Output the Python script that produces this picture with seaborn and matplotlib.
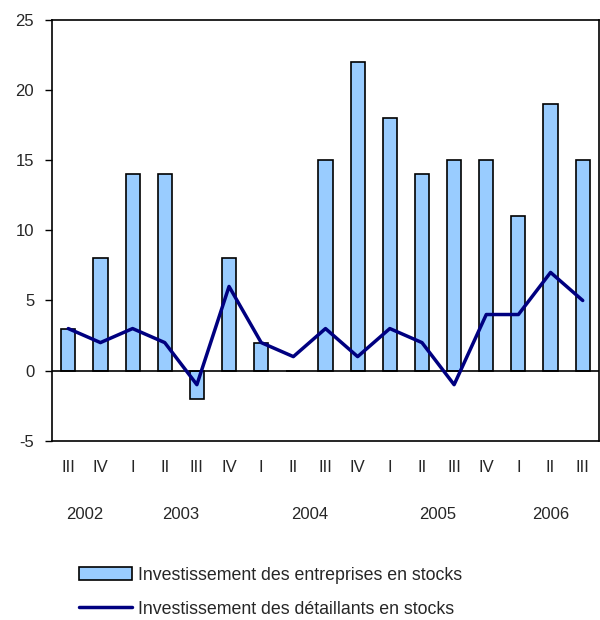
import numpy as np
import pandas as pd
import matplotlib
matplotlib.use("Agg")
import matplotlib.pyplot as plt
import seaborn as sns
from matplotlib.patches import Patch
from matplotlib.lines import Line2D
import matplotlib.transforms as mtransforms

# ── Data ─────────────────────────────────────────────────────────────────────
quarters = ["III", "IV", "I", "II", "III", "IV", "I", "II", "III", "IV",
            "I", "II", "III", "IV", "I", "II", "III"]
years = ["2002", "2002", "2003", "2003", "2003", "2003", "2004", "2004",
         "2004", "2004", "2005", "2005", "2005", "2005", "2006", "2006", "2006"]
business = [3, 8, 14, 14, -2, 8, 2, 0, 15, 22, 18, 14, 15, 15, 11, 19, 15]
retail = [3, 2, 3, 2, -1, 6, 2, 1, 3, 1, 3, 2, -1, 4, 4, 7, 5]

df = pd.DataFrame({"idx": range(len(quarters)), "quarter": quarters,
                   "year": years, "business": business, "retail": retail})

# ── Style ────────────────────────────────────────────────────────────────────
sns.set_theme(style="white")
plt.rcParams["font.family"] = ["Liberation Sans", "DejaVu Sans"]
plt.rcParams["axes.unicode_minus"] = False
BAR_COLOR = "#99CCFF"
LINE_COLOR = "#000080"

fig = plt.figure(figsize=(6, 6.2), dpi=100)
ax = fig.add_axes([0.087, 0.289, 0.911, 0.679])

sns.barplot(data=df, x="idx", y="business", color=BAR_COLOR, width=0.44,
            edgecolor="black", linewidth=1.2, saturation=1, ax=ax)
sns.lineplot(data=df, x="idx", y="retail", color=LINE_COLOR, linewidth=2.5, ax=ax)
ax.axhline(0, color="black", linewidth=1.2, zorder=1.5)

ax.set_ylim(-5, 25)
ax.set_xlim(-0.5, len(quarters) - 0.5)
ax.set_yticks(range(-5, 26, 5))
ax.set_xticks(df["idx"])
ax.set_xticklabels(quarters)
ax.set_xlabel("")
ax.set_ylabel("")
ax.tick_params(axis="y", left=True, length=5, width=1, color="black",
               labelsize=12, pad=8)
ax.tick_params(axis="x", bottom=False, labelsize=12, pad=8)
for sp in ax.spines.values():
    sp.set_color("black")
    sp.set_linewidth(1.2)

# Year labels centred under their quarters
trans = mtransforms.blended_transform_factory(ax.transData, ax.transAxes)
for yr, grp in df.groupby("year"):
    ax.text(grp["idx"].mean(), -0.175, yr, transform=trans, ha="center",
            va="center", fontsize=12)

handles = [Patch(facecolor=BAR_COLOR, edgecolor="black", linewidth=1.2),
           Line2D([0], [0], color=LINE_COLOR, linewidth=2.5)]
labels = ["Investissement des entreprises en stocks",
          "Investissement des détaillants en stocks"]
fig.legend(handles, labels, loc="lower left", bbox_to_anchor=(0.105, -0.022),
           frameon=False, fontsize=12.8, handlelength=3.0, handleheight=0.8,
           handletextpad=0.3, labelspacing=0.95)

fig.savefig("out.png", dpi=100)
